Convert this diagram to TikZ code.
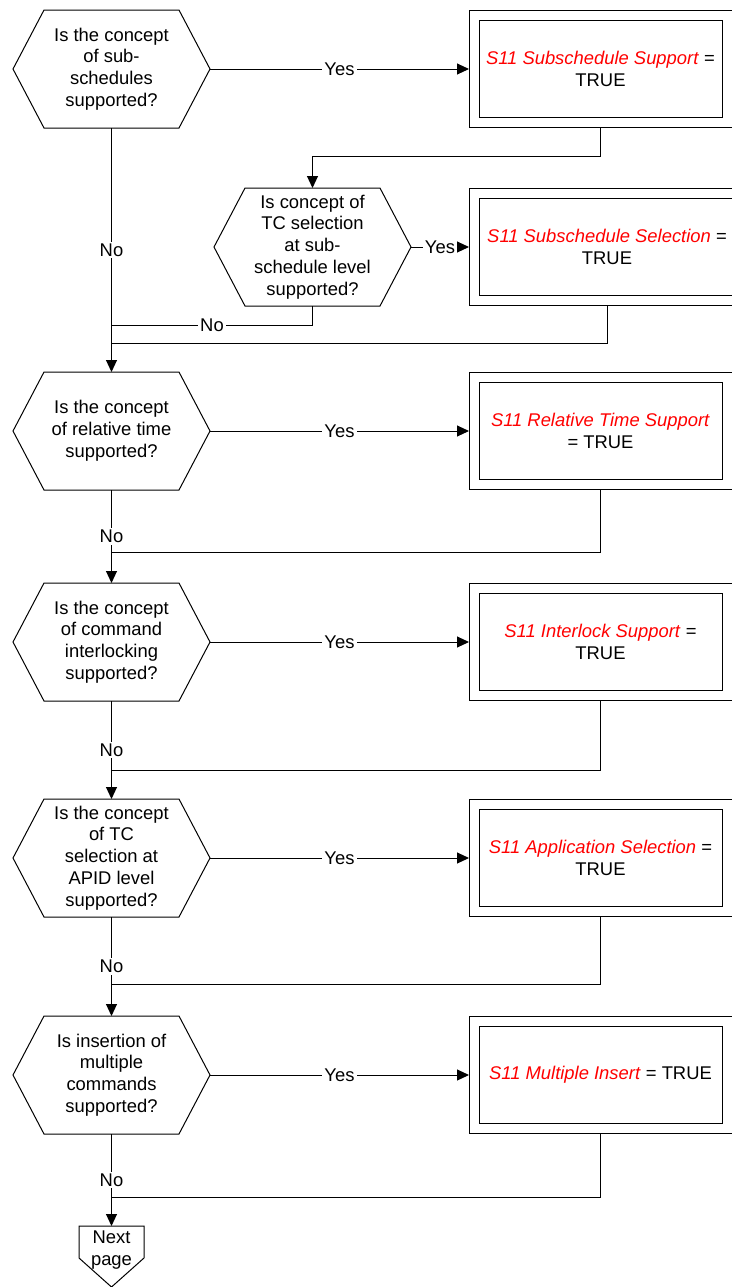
\documentclass[tikz,border=0pt]{standalone}
\usepackage{fontspec}
\setmainfont{Liberation Sans}
\usetikzlibrary{positioning, arrows.meta}

\begin{document}
\begin{tikzpicture}[
  x=0.5pt, y=-0.5pt,
  font=\fontsize{9.2}{10.9}\selectfont,
  >={Triangle[length=6pt, width=5.5pt]},
  line width=0.5pt,
  %% Node styles
  question/.style={
    minimum width=67.5pt, minimum height=59pt,
    inner sep=0pt, outer sep=0pt, align=center
  },
  result/.style={
    draw, double, double distance=4.5pt,
    minimum width=126.5pt, minimum height=53.75pt,
    inner sep=0pt, outer sep=2.5pt, align=center
  },
  offpage/.style={
    minimum width=32.5pt, minimum height=24pt,
    inner sep=0pt, outer sep=0pt, align=center
  },
  answer/.style={fill=white, inner sep=1pt},
]
\useasboundingbox (0,0) rectangle (732,1287);

%% ── QUESTIONS ─────────────────────────────────────────────────────────────
\node[question] (q1) at (111.5,  69) {Is the concept\\of sub-\\schedules\\supported?};
\node[question] (q2) at (312.5, 247) {Is concept of\\TC selection\\at sub-\\schedule level\\supported?};
\node[question] (q3) at (111.5, 431) {Is the concept\\of relative time\\supported?};
\node[question] (q4) at (111.5, 642) {Is the concept\\of command\\interlocking\\supported?};
\node[question] (q5) at (111.5, 858) {Is the concept\\of TC\\selection at\\APID level\\supported?};
\node[question] (q6) at (111.5,1075) {Is insertion of\\multiple\\commands\\supported?};

%% hexagon outlines
\foreach \q in {q1, q2, q3, q4, q5, q6}
  \draw (\q.north west) -- (\q.north east) -- ([xshift=15.5pt]\q.east)
    -- (\q.south east) -- (\q.south west) -- ([xshift=-15.5pt]\q.west) -- cycle;

%% ── RESULTS ───────────────────────────────────────────────────────────────
\node[result] (b1) at (600.5,  69) {\textcolor{red}{\textit{S11 Subschedule Support}} =\\TRUE};
\node[result, minimum width=133pt] (b2) at (607, 247) {\textcolor{red}{\textit{S11 Subschedule Selection}} =\\TRUE};
\node[result] (b3) at (600.5, 431) {\textcolor{red}{\textit{S11 Relative Time Support}}\\= TRUE};
\node[result] (b4) at (600.5, 642) {\textcolor{red}{\textit{S11 Interlock Support}} =\\TRUE};
\node[result] (b5) at (600.5, 858) {\textcolor{red}{\textit{S11 Application Selection}} =\\TRUE};
\node[result] (b6) at (600.5,1075) {\textcolor{red}{\textit{S11 Multiple Insert}} = TRUE};

%% ── OFF-PAGE ──────────────────────────────────────────────────────────────
\node[offpage] (np) at (111.5,1250) {Next\\page};
\draw (np.north west) -- (np.north east) -- ([yshift=-16pt]np.north east)
  -- ([yshift=-30.5pt]np.north) -- ([yshift=-16pt]np.north west) -- cycle;

%% join points on the main line
\coordinate (j2a) at (111.5, 325);
\coordinate (j2b) at (111.5, 343);
\coordinate (j3)  at (111.5, 552);
\coordinate (j4)  at (111.5, 770);
\coordinate (j5)  at (111.5, 984);
\coordinate (j6)  at (111.5,1197);

%% Yes edges
\foreach \q/\b in {q1/b1, q2/b2, q3/b3, q4/b4, q5/b5, q6/b6}
  \draw[->] ([xshift=15.5pt]\q.east) -- node[answer] {Yes} (\b.west);

%% No edges
\draw[->] (q1.south) -- node[answer] {No} (q3.north);
\draw[->] (q3.south) -- node[answer] {No} (q4.north);
\draw[->] (q4.south) -- node[answer] {No} (q5.north);
\draw[->] (q5.south) -- node[answer] {No} (q6.north);
\draw[->] (q6.south) -- node[answer] {No} (np.north);
\draw (q2.south) |- node[answer, pos=0.75] {No} (j2a);

%% Result → next step
\draw[->] (b1.south) -- ++(0,29) -| (q2.north);
\draw (b2.south) |- (j2b);
\foreach \b/\j in {b3/j3, b4/j4, b5/j5, b6/j6}
  \draw (\b.south) |- (\j);

\end{tikzpicture}
\end{document}
